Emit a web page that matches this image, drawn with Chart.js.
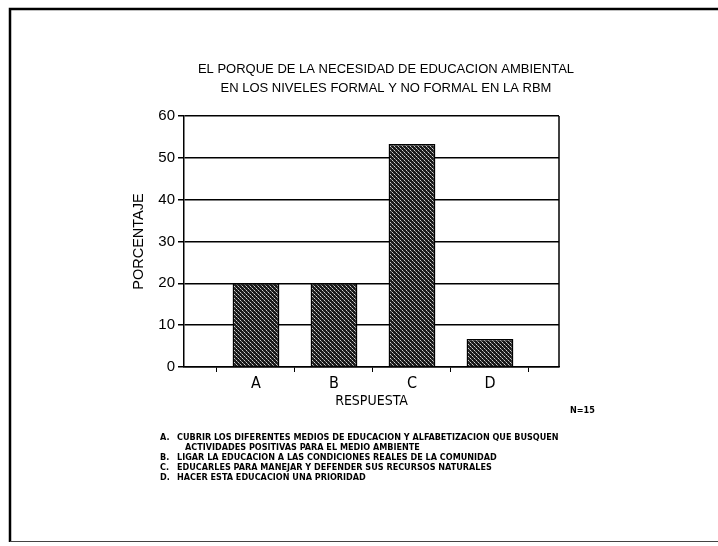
<!DOCTYPE html>
<html>
<head>
<meta charset="utf-8">
<script src="https://cdn.jsdelivr.net/npm/chart.js@4/dist/chart.umd.min.js"></script>
<style>
html,body{margin:0;padding:0;background:#fff;}
#wrap{position:relative;width:718px;height:546px;}
</style>
</head>
<body>
<div id="wrap"><canvas id="c" width="718" height="546"></canvas></div>
<script>
// ---- data ----
const categories = ['A', 'B', 'C', 'D'];
const percentages = [20, 20, 53.3, 6.7];
const yTicks = [0, 10, 20, 30, 40, 50, 60];
const titleLines = ['EL PORQUE DE LA NECESIDAD DE EDUCACION AMBIENTAL', 'EN LOS NIVELES FORMAL Y NO FORMAL EN LA RBM'];
const xTitle = 'RESPUESTA';
const yTitle = 'PORCENTAJE';
const sampleNote = 'N=15';
const notes = [
  ['A.', 'CUBRIR LOS DIFERENTES MEDIOS DE EDUCACION Y ALFABETIZACION QUE BUSQUEN'],
  ['', 'ACTIVIDADES POSITIVAS PARA EL MEDIO AMBIENTE'],
  ['B.', 'LIGAR LA EDUCACION A LAS CONDICIONES REALES DE LA COMUNIDAD'],
  ['C.', 'EDUCARLES PARA MANEJAR Y DEFENDER SUS RECURSOS NATURALES'],
  ['D.', 'HACER ESTA EDUCACION UNA PRIORIDAD']
];

// cross-hatch pattern
function makePattern() {
  const p = document.createElement('canvas');
  p.width = 4; p.height = 4;
  const g = p.getContext('2d');
  g.fillStyle = '#1a1a1a';
  g.fillRect(0, 0, 4, 4);
  g.fillStyle = '#d0d0d0';
  g.fillRect(0, 0, 1, 1);
  g.fillRect(2, 2, 1, 1);
  g.fillStyle = '#858585';
  g.fillRect(1, 1, 1, 1);
  g.fillRect(3, 3, 1, 1);
  return g.createPattern(p, 'repeat');
}
const ctx0 = document.getElementById('c').getContext('2d');
const pattern = makePattern();

const FONT = '"Liberation Sans", Arial, sans-serif';
const NARROW = '"Liberation Sans Narrow", "DejaVu Sans Condensed", "Liberation Sans", sans-serif';

const decor = {
  id: 'decor',
  beforeDraw(chart) {
    const c = chart.ctx;
    c.save();
    c.fillStyle = '#fff';
    c.fillRect(0, 0, chart.width, chart.height);
    c.restore();
  },
  afterDraw(chart) {
    const c = chart.ctx;
    const a = chart.chartArea;
    c.save();
    // outer frame
    c.strokeStyle = '#000';
    c.lineWidth = 2.5;
    c.beginPath();
    c.moveTo(718, 9); c.lineTo(10, 9); c.lineTo(10, 542);
    c.stroke();
    c.lineWidth = 1;
    c.strokeStyle = '#444';
    c.beginPath();
    c.moveTo(10, 541.5); c.lineTo(718, 541.5);
    c.stroke();
    // plot right border
    c.strokeStyle = '#000';
    c.lineWidth = 1.5;
    c.beginPath();
    c.moveTo(a.right, a.top); c.lineTo(a.right, a.bottom);
    c.stroke();
    // title
    c.fillStyle = '#000';
    c.textAlign = 'center';
    c.textBaseline = 'middle';
    c.font = '13px ' + FONT;
    c.fillText(titleLines[0], 386, 69);
    c.fillText(titleLines[1], 386, 88);
    // N=15
    c.font = 'bold 9px ' + NARROW;
    c.textAlign = 'left';
    c.fillText(sampleNote, 570, 411);
    // notes
    c.font = 'bold 9px ' + NARROW;
    let y = 438;
    notes.forEach((n) => {
      if (n[0]) c.fillText(n[0], 160, y);
      c.fillText(n[1], n[0] ? 177 : 185, y);
      y += 10;
    });
    c.restore();
  }
};

new Chart(ctx0, {
  type: 'bar',
  data: {
    datasets: [{
      data: percentages.map((v, i) => ({ x: i + 1, y: v })),
      backgroundColor: pattern,
      borderColor: '#000',
      borderWidth: 1.5,
      // ruler uses half-unit tick spacing, so >1 gives 0.6 of a full category
      barPercentage: 1.2,
      categoryPercentage: 1
    }]
  },
  options: {
    responsive: false,
    animation: false,
    devicePixelRatio: 1,
    layout: { padding: { left: 120, right: 159, top: 116, bottom: 136 } },
    plugins: { legend: { display: false }, tooltip: { enabled: false } },
    scales: {
      x: {
        type: 'linear',
        offset: false,
        min: 0.077,
        max: 4.885,
        afterBuildTicks: s => { s.ticks = [0.5, 1, 1.5, 2, 2.5, 3, 3.5, 4, 4.5].map(v => ({ value: v })); },
        afterFit: s => { s.height = 43; },
        border: { display: true, color: '#000', width: 1.5 },
        grid: {
          offset: false,
          drawOnChartArea: false,
          drawTicks: true,
          tickLength: 5,
          color: '#000',
          tickColor: ctx => (ctx.tick && Number.isInteger(ctx.tick.value)) ? 'rgba(0,0,0,0)' : '#000',
          lineWidth: 1
        },
        ticks: {
          autoSkip: false,
          maxRotation: 0,
          color: '#000',
          font: { family: NARROW, size: 16 },
          padding: 2,
          callback: v => Number.isInteger(v) ? categories[v - 1] : ''
        },
        title: {
          display: true, text: xTitle, color: '#000',
          font: { family: NARROW, size: 14 },
          padding: { top: 0, bottom: 0 }
        }
      },
      y: {
        min: 0, max: 60,
        afterBuildTicks: s => { s.ticks = yTicks.map(v => ({ value: v })); },
        afterFit: s => { s.width = 64; },
        border: { display: true, color: '#000', width: 1.5 },
        grid: {
          color: '#000',
          lineWidth: 1.5,
          drawTicks: true,
          tickLength: 6
        },
        ticks: {
          color: '#000',
          font: { family: FONT, size: 15 },
          padding: 3
        },
        title: {
          display: true, text: yTitle, color: '#000',
          font: { family: FONT, size: 14.5 },
          padding: { top: 10, bottom: 0 }
        }
      }
    }
  },
  plugins: [decor]
});
</script>
</body>
</html>
